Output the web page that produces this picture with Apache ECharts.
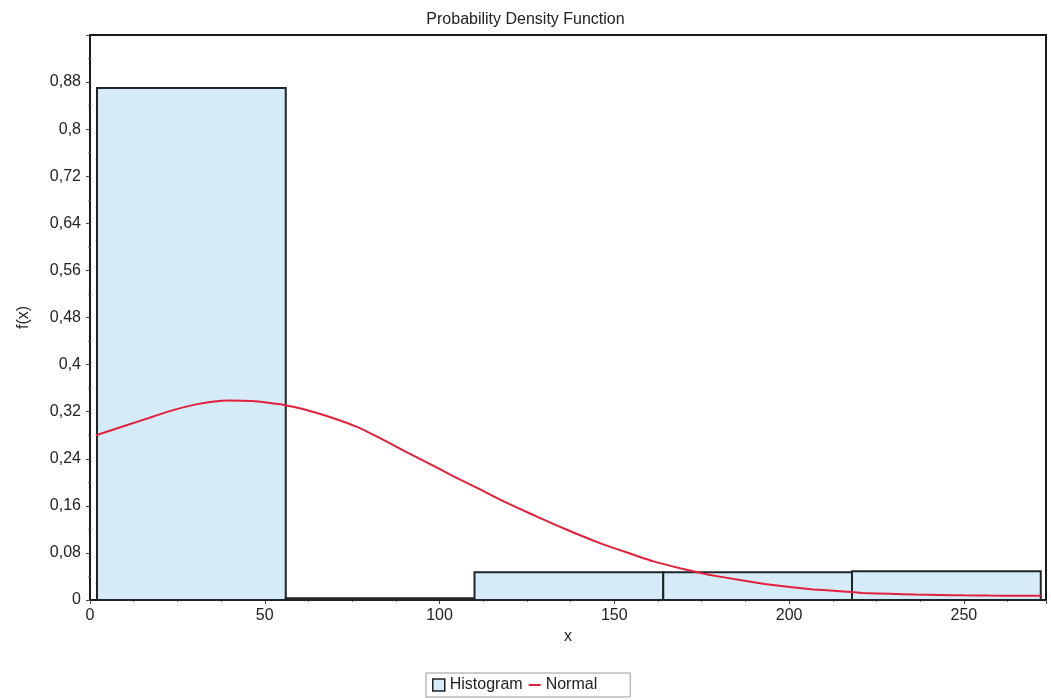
<!DOCTYPE html>
<html>
<head>
<meta charset="utf-8">
<title>Probability Density Function</title>
<script src="https://cdn.jsdelivr.net/npm/echarts@6/dist/echarts.min.js"></script>
<style>
  html, body { margin: 0; padding: 0; background: #fff; }
  #chart { width: 1051px; height: 700px; }
</style>
</head>
<body>
<div id="chart"></div>
<script>
// histogram bins: left edge, right edge, density
const binStart = [2, 56, 110, 164, 218]
const binEnd = [56, 110, 164, 218, 272]
const binHeight = [0.870, 0.003, 0.047, 0.047, 0.049]

// fitted normal curve
const normalX = [1.7, 10, 17.7, 24, 30, 35, 40, 46.3, 51, 55.8, 60.6, 68.6, 76, 83, 90, 97.3, 104, 111.6, 118.5, 125.9,
  133, 140.2, 147, 154.5, 161, 168.8, 177, 185.9, 193, 200.2, 207, 214.5, 221, 228.8, 236, 243.1, 250, 257.4, 265, 272]
const normalY = [0.280, 0.296, 0.311, 0.323, 0.332, 0.337, 0.339, 0.338, 0.335, 0.331, 0.325, 0.311, 0.295, 0.275, 0.253, 0.231, 0.210, 0.188, 0.167, 0.147,
  0.128, 0.110, 0.094, 0.079, 0.066, 0.054, 0.043, 0.034, 0.027, 0.022, 0.018, 0.015, 0.012, 0.0105, 0.0093, 0.0085, 0.0079, 0.0075, 0.0073, 0.0072]

const font = 'Liberation Sans, Arial, sans-serif'
const textColor = '#222'

const histData = binStart.map((s, i) => [s, binEnd[i], binHeight[i]])
const normalData = normalX.map((x, i) => [x, normalY[i]])

const chart = echarts.init(document.getElementById('chart'))

chart.setOption({
  backgroundColor: '#fff',
  animation: false,
  title: {
    text: 'Probability Density Function',
    left: 'center',
    top: 7,
    textStyle: { fontFamily: font, fontSize: 16, fontWeight: 'normal', color: textColor }
  },
  legend: {
    left: 426,
    top: 673,
    itemWidth: 12,
    itemHeight: 12,
    itemGap: 6,
    padding: [4, 33, 4, 6],
    borderColor: '#999',
    borderWidth: 1,
    symbolKeepAspect: true,
    textStyle: { fontFamily: font, fontSize: 16, color: textColor },
    data: [
      { name: 'Histogram', icon: 'rect', itemStyle: { color: '#d5ebf8', borderColor: '#222', borderWidth: 1.5 } },
      { name: 'Normal', icon: 'path://M0,0 L12,0 L12,2 L0,2 Z', itemStyle: { color: '#e3203c', borderWidth: 0 } }
    ]
  },
  grid: {
    left: 90,
    right: 5,
    top: 35,
    bottom: 100,
    show: true,
    borderColor: '#1a1a1a',
    borderWidth: 2,
    backgroundColor: '#fff'
  },
  xAxis: {
    type: 'value',
    min: 0,
    max: 273.5,
    interval: 50,
    name: 'x',
    nameLocation: 'middle',
    nameGap: 28,
    nameTextStyle: { fontFamily: font, fontSize: 16, color: textColor },
    axisLine: { show: true, lineStyle: { color: '#1a1a1a', width: 2 } },
    axisTick: { show: true, length: 4, lineStyle: { color: '#444' } },
    minorTick: { show: true, splitNumber: 4, length: 2, lineStyle: { color: '#777' } },
    axisLabel: { fontFamily: font, fontSize: 16, color: textColor, margin: 8, showMaxLabel: false },
    splitLine: { show: false }
  },
  yAxis: {
    type: 'value',
    min: 0,
    max: 0.96,
    interval: 0.08,
    name: 'f(x)',
    nameLocation: 'middle',
    nameGap: 58,
    nameTextStyle: { fontFamily: font, fontSize: 16, color: textColor },
    axisLine: { show: true, lineStyle: { color: '#1a1a1a', width: 2 } },
    axisTick: { show: true, length: 4, lineStyle: { color: '#444' } },
    minorTick: { show: true, splitNumber: 2, length: 2, lineStyle: { color: '#777' } },
    axisLabel: {
      fontFamily: font,
      fontSize: 16,
      color: textColor,
      margin: 9,
      showMaxLabel: false,
      formatter: v => String(Math.round(v * 100) / 100).replace('.', ',')
    },
    splitLine: { show: false }
  },
  series: [
    {
      name: 'Histogram',
      type: 'custom',
      itemStyle: { color: '#d5ebf8' },
      encode: { x: [0, 1], y: 2 },
      data: histData,
      z: 2,
      renderItem: function (params, api) {
        const topLeft = api.coord([api.value(0), api.value(2)])
        const bottomRight = api.coord([api.value(1), 0])
        return {
          type: 'rect',
          shape: {
            x: topLeft[0],
            y: topLeft[1],
            width: bottomRight[0] - topLeft[0],
            height: bottomRight[1] - topLeft[1]
          },
          style: { fill: '#d5ebf8', stroke: '#1e2428', lineWidth: 2 }
        }
      }
    },
    {
      name: 'Normal',
      type: 'line',
      data: normalData,
      symbol: 'none',
      smooth: 0.1,
      z: 3,
      itemStyle: { color: '#e3203c' },
      lineStyle: { color: '#e3203c', width: 2 }
    }
  ]
})

window.addEventListener('resize', () => chart.resize())
</script>
</body>
</html>
